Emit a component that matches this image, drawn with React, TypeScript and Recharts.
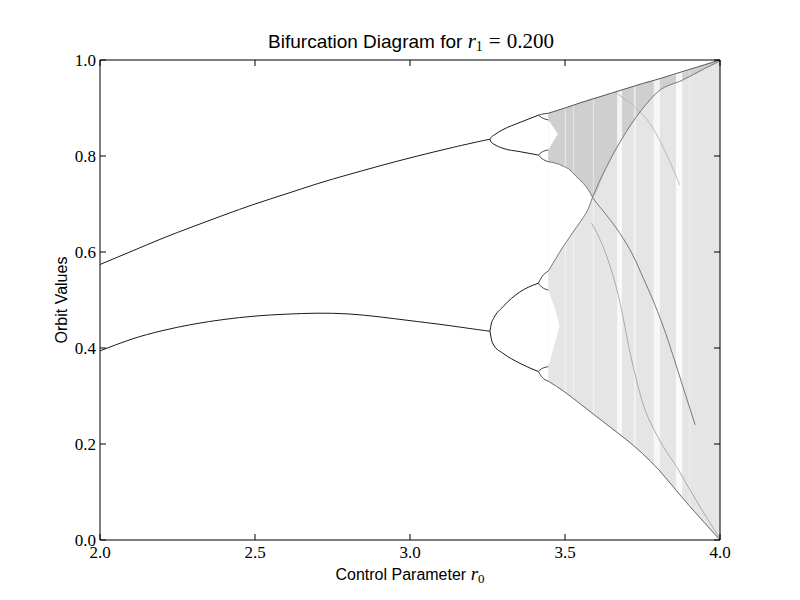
import React from 'react';
import { ComposedChart, Line, Area, XAxis, YAxis } from 'recharts';

// ---- axis ticks ----
const xTicks = [2.0, 2.5, 3.0, 3.5, 4.0];
const yTicks = [0.0, 0.2, 0.4, 0.6, 0.8, 1.0];

// ---- period-2 orbit (stable branches) ----
const p2R = [2.0, 2.1, 2.2, 2.3, 2.4, 2.5, 2.6, 2.7, 2.8, 2.9, 3.0, 3.1, 3.2, 3.258];
const p2Upper = [0.574, 0.601, 0.628, 0.653, 0.677, 0.7, 0.721, 0.742, 0.761, 0.779, 0.796, 0.812, 0.827, 0.835];
const p2Lower = [0.394, 0.418, 0.436, 0.4495, 0.4595, 0.4665, 0.4705, 0.4725, 0.471, 0.465, 0.457, 0.449, 0.44, 0.435];

// ---- period-4 orbit ----
const p4R = [3.258, 3.262, 3.27, 3.3, 3.355, 3.414];
const p4UU = [0.834, 0.839, 0.843, 0.855, 0.87, 0.885];
const p4UL = [0.834, 0.829, 0.825, 0.816, 0.809, 0.802];
const p4LU = [0.435, 0.45, 0.462, 0.486, 0.517, 0.535];
const p4LL = [0.435, 0.42, 0.406, 0.389, 0.368, 0.351];

// ---- period-8 orbit (short branches before chaos) ----
const p8R = [3.414, 3.425, 3.446];
const p8Branches = [
  [0.885, 0.887, 0.889],
  [0.885, 0.88, 0.875],
  [0.802, 0.808, 0.8125],
  [0.802, 0.795, 0.788],
  [0.535, 0.548, 0.56],
  [0.535, 0.527, 0.521],
  [0.351, 0.357, 0.361],
  [0.351, 0.34, 0.331],
];

// ---- chaotic region envelope ----
const chaosR = [3.446, 3.5, 3.55, 3.6, 3.65, 3.7, 3.75, 3.8, 3.85, 3.9, 3.95, 4.0];
const chaosTop = [0.889, 0.9, 0.911, 0.921, 0.931, 0.941, 0.951, 0.96, 0.97, 0.98, 0.99, 1.0];
const chaosBottom = [0.331, 0.308, 0.283, 0.258, 0.233, 0.208, 0.18, 0.148, 0.11, 0.072, 0.036, 0.0];

// ---- gap between the two chaotic bands ----
const lensR = [3.446, 3.47, 3.494, 3.516, 3.535, 3.559, 3.575, 3.589];
const bandUpperLow = [0.788, 0.785, 0.779, 0.771, 0.758, 0.743, 0.73, 0.714];
const bandLowerHigh = [0.56, 0.586, 0.611, 0.632, 0.65, 0.672, 0.69, 0.714];

// ---- small gaps inside each band ----
const upperMiniR = [3.446, 3.46, 3.476];
const upperMiniLow = [0.8125, 0.828, 0.845];
const upperMiniHigh = [0.875, 0.862, 0.847];
const lowerMiniR = [3.446, 3.463, 3.482];
const lowerMiniLow = [0.361, 0.4, 0.445];
const lowerMiniHigh = [0.521, 0.49, 0.448];

// ---- darker upper part of the attractor ----
const denseR = [3.446, 3.494, 3.535, 3.589, 3.63, 3.681, 3.747, 3.802, 3.879, 3.95, 4.0];
const denseLow = [0.788, 0.779, 0.758, 0.714, 0.772, 0.833, 0.896, 0.935, 0.958, 0.982, 0.998];
const denseHigh = [0.889, 0.899, 0.908, 0.92, 0.927, 0.937, 0.95, 0.96, 0.973, 0.99, 1.0];

// ---- darker curves inside the chaotic region ----
const curveAR = [3.63, 3.681, 3.747, 3.802, 3.879, 3.95, 4.0];
const curveAV = [0.772, 0.833, 0.896, 0.935, 0.958, 0.982, 0.998];
const curveBR = [3.63, 3.677, 3.72, 3.753, 3.79, 3.825, 3.855, 3.88, 3.92];
const curveBV = [0.68, 0.639, 0.592, 0.545, 0.49, 0.43, 0.371, 0.32, 0.24];
const curveCR = [3.586, 3.629, 3.672, 3.715, 3.753, 3.796, 3.866, 3.93, 4.0];
const curveCV = [0.66, 0.601, 0.51, 0.375, 0.281, 0.219, 0.146, 0.075, 0.003];
const curveDR = [3.66, 3.72, 3.78, 3.83, 3.87];
const curveDV = [0.933, 0.905, 0.862, 0.8, 0.74];

// ---- periodic windows (white vertical stripes) ----
const windowStart = [3.499, 3.526, 3.59, 3.668, 3.722, 3.786, 3.858, 3.901];
const windowEnd = [3.503, 3.529, 3.593, 3.684, 3.728, 3.806, 3.878, 3.904];
const windowClear = [0.5, 0.45, 0.55, 0.75, 0.55, 0.7, 0.8, 0.45];

const mk = (rs: number[], vs: number[]) => rs.map((r, i) => ({ r, v: vs[i] }));
const mkBand = (rs: number[], lo: number[], hi: number[]) =>
  rs.map((r, i) => ({ r, band: [lo[i], hi[i]] }));

const serif = '"Liberation Serif", "DejaVu Serif", serif';
const sans = '"Liberation Sans", Arial, sans-serif';

const BottomTick = (props: any) => {
  const { x, y, payload } = props;
  return (
    <g>
      <line x1={x} y1={y} x2={x} y2={y - 6} stroke="#000" strokeWidth={1} />
      <text x={x} y={y + 18} textAnchor="middle" fontFamily={serif} fontSize={17} fill="#000">
        {Number(payload.value).toFixed(1)}
      </text>
    </g>
  );
};
const TopTick = (props: any) => {
  const { x, y } = props;
  return <line x1={x} y1={y} x2={x} y2={y + 6} stroke="#000" strokeWidth={1} />;
};
const LeftTick = (props: any) => {
  const { x, y, payload } = props;
  return (
    <g>
      <line x1={x} y1={y} x2={x + 6} y2={y} stroke="#000" strokeWidth={1} />
      <text x={x - 4} y={y + 6} textAnchor="end" fontFamily={serif} fontSize={17} fill="#000">
        {Number(payload.value).toFixed(1)}
      </text>
    </g>
  );
};
const RightTick = (props: any) => {
  const { x, y } = props;
  return <line x1={x} y1={y} x2={x - 6} y2={y} stroke="#000" strokeWidth={1} />;
};

const ax = { xAxisId: 'b', yAxisId: 'l' };

export default function App() {
  const orbitLines: { data: any[]; color: string; w: number; t: any }[] = [];
  orbitLines.push({ data: mk(p2R, p2Upper), color: '#1a1a1a', w: 1, t: 'natural' });
  orbitLines.push({ data: mk(p2R, p2Lower), color: '#1a1a1a', w: 1, t: 'natural' });
  [p4UU, p4UL, p4LU, p4LL].forEach((vs) =>
    orbitLines.push({ data: mk(p4R, vs), color: '#1a1a1a', w: 1, t: 'monotone' }));
  p8Branches.forEach((vs) => orbitLines.push({ data: mk(p8R, vs), color: '#333', w: 0.9, t: 'monotone' }));

  const curveA = [...mk(lensR, bandLowerHigh), ...mk(curveAR, curveAV)];
  const curveB = [...mk(lensR, bandUpperLow), ...mk(curveBR, curveBV)];

  return (
    <div style={{ position: 'absolute', left: 0, top: 0, width: 800, height: 600, background: '#fff' }}>
      <ComposedChart width={800} height={600} margin={{ top: 50, right: 70, bottom: 30, left: 60 }}>
        <XAxis xAxisId="b" type="number" dataKey="r" domain={[2, 4]} ticks={xTicks} allowDataOverflow
          orientation="bottom" height={30} tickSize={0} tickMargin={0} tickLine={false}
          axisLine={{ stroke: '#000' }} tick={BottomTick} interval={0} />
        <XAxis xAxisId="t" type="number" dataKey="r" domain={[2, 4]} ticks={xTicks} allowDataOverflow
          orientation="top" height={10} tickSize={0} tickMargin={0} tickLine={false}
          axisLine={{ stroke: '#000' }} tick={TopTick} interval={0} />
        <YAxis yAxisId="l" type="number" domain={[0, 1]} ticks={yTicks} allowDataOverflow
          orientation="left" width={40} tickSize={0} tickMargin={0} tickLine={false}
          axisLine={{ stroke: '#000' }} tick={LeftTick} interval={0} />
        <YAxis yAxisId="r" type="number" domain={[0, 1]} ticks={yTicks} allowDataOverflow
          orientation="right" width={10} tickSize={0} tickMargin={0} tickLine={false}
          axisLine={{ stroke: '#000' }} tick={RightTick} interval={0} />

        {/* chaotic attractor body */}
        <Area {...ax} data={mkBand(chaosR, chaosBottom, chaosTop)} dataKey="band" type="monotone"
          stroke="none" fill="#e5e5e5" fillOpacity={1} isAnimationActive={false} />
        <Area {...ax} data={mkBand(denseR, denseLow, denseHigh)} dataKey="band" type="monotone"
          stroke="none" fill="#cfcfcf" fillOpacity={1} isAnimationActive={false} />
        <Area {...ax} data={mkBand(lensR, bandLowerHigh, bandUpperLow)} dataKey="band" type="monotone"
          stroke="none" fill="#ffffff" fillOpacity={1} isAnimationActive={false} />
        <Area {...ax} data={mkBand(upperMiniR, upperMiniLow, upperMiniHigh)} dataKey="band" type="monotone"
          stroke="none" fill="#ffffff" fillOpacity={1} isAnimationActive={false} />
        <Area {...ax} data={mkBand(lowerMiniR, lowerMiniLow, lowerMiniHigh)} dataKey="band" type="monotone"
          stroke="none" fill="#ffffff" fillOpacity={1} isAnimationActive={false} />
        {windowStart.map((s, i) => (
          <Area key={'w' + i} {...ax}
            data={mkBand([s, windowEnd[i]], [0, 0], [1, 1])} dataKey="band" type="linear"
            stroke="none" fill="#ffffff" fillOpacity={windowClear[i]} isAnimationActive={false} />
        ))}

        {/* internal curves of the attractor */}
        <Line {...ax} data={curveA} dataKey="v" type="monotone" dot={false} activeDot={false}
          stroke="#777" strokeWidth={1} isAnimationActive={false} />
        <Line {...ax} data={curveB} dataKey="v" type="monotone" dot={false} activeDot={false}
          stroke="#777" strokeWidth={1} isAnimationActive={false} />
        <Line {...ax} data={mk(curveCR, curveCV)} dataKey="v" type="monotone" dot={false} activeDot={false}
          stroke="#9a9a9a" strokeWidth={0.8} isAnimationActive={false} />
        <Line {...ax} data={mk(curveDR, curveDV)} dataKey="v" type="monotone" dot={false} activeDot={false}
          stroke="#b0b0b0" strokeWidth={0.8} isAnimationActive={false} />
        <Line {...ax} data={mk(chaosR, chaosTop)} dataKey="v" type="monotone" dot={false} activeDot={false}
          stroke="#555" strokeWidth={1} isAnimationActive={false} />
        <Line {...ax} data={mk(chaosR, chaosBottom)} dataKey="v" type="monotone" dot={false} activeDot={false}
          stroke="#666" strokeWidth={1} isAnimationActive={false} />

        {/* periodic orbits */}
        {orbitLines.map((o, i) => (
          <Line key={'o' + i} {...ax} data={o.data} dataKey="v" type={o.t} dot={false} activeDot={false}
            stroke={o.color} strokeWidth={o.w} isAnimationActive={false} />
        ))}

        {/* keeps the mirrored top/right axes bound to the same scales */}
        <Line xAxisId="t" yAxisId="r" data={mk(p2R, p2Upper)} dataKey="v" dot={false} activeDot={false}
          stroke="none" isAnimationActive={false} />
      </ComposedChart>

      <div style={{ position: 'absolute', left: 0, top: 29, width: 822, textAlign: 'center',
        fontFamily: sans, fontSize: 19, color: '#000', whiteSpace: 'nowrap' }}>
        Bifurcation Diagram for{' '}
        <span style={{ fontFamily: serif, fontSize: 21 }}>
          <i>r</i><sub style={{ fontSize: 14, verticalAlign: '-3px' }}>1</sub>
          <span style={{ marginLeft: 6, marginRight: 6 }}>=</span>0.200
        </span>
      </div>
      <div style={{ position: 'absolute', left: 0, top: 563, width: 820, textAlign: 'center',
        fontFamily: sans, fontSize: 16, color: '#000', whiteSpace: 'nowrap' }}>
        Control Parameter{' '}
        <span style={{ fontFamily: serif, fontSize: 19 }}>
          <i>r</i><sub style={{ fontSize: 13, verticalAlign: '-3px' }}>0</sub>
        </span>
      </div>
      <div style={{ position: 'absolute', left: 62, top: 300, width: 0, height: 0 }}>
        <div style={{ position: 'absolute', left: 0, top: 0, transform: 'translate(-50%, -50%) rotate(-90deg)',
          fontFamily: sans, fontSize: 16, color: '#000', whiteSpace: 'nowrap' }}>
          Orbit Values
        </div>
      </div>
    </div>
  );
}
